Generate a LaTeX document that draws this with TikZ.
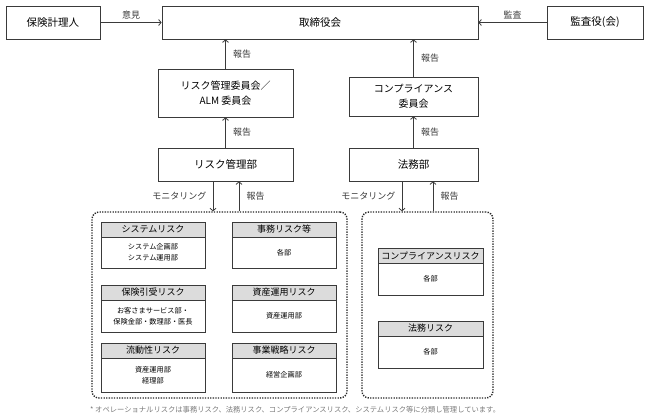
\documentclass[tikz,border=0pt]{standalone}
\usepackage{fontspec}
\setmainfont{Noto Sans CJK JP}
\usetikzlibrary{arrows.meta}
\definecolor{linegray}{HTML}{3A3A3A}
\definecolor{headgray}{HTML}{DCDCDC}
\definecolor{notegray}{HTML}{7A7A7A}

\begin{document}
\begin{tikzpicture}[x=1pt,y=-1pt,
    box/.style={draw=linegray,line width=0.8pt,inner sep=0pt,align=center,font=\fontsize{10.5}{13}\selectfont},
    riskhead/.style={draw=linegray,line width=1pt,fill=headgray,inner sep=0pt,minimum width=104pt,minimum height=15pt,font=\fontsize{9}{10}\selectfont},
    riskbody/.style={draw=linegray,line width=1pt,inner sep=0pt,minimum width=104pt,align=center,font=\fontsize{7.2}{11}\selectfont},
    group/.style={draw=black!85,line width=1.4pt,dash pattern=on 1.3pt off 1.3pt,rounded corners=7pt,inner sep=0pt},
    arr/.style={draw=linegray,line width=0.8pt,-{Straight Barb[length=2.5pt,width=6pt]}},
    lbl/.style={font=\fontsize{9}{10}\selectfont,text=linegray}]
      \useasboundingbox (0,0) rectangle (648,420);
      \node[box,minimum width=94pt,minimum height=33pt] (actuary) at (53,22.5) {保険計理人};
      \node[box,minimum width=316pt,minimum height=33pt] (board) at (320,22.5) {取締役会};
      \node[box,minimum width=96pt,minimum height=33pt] (auditor) at (595,22.5) {監査役(会)};
      \node[box,minimum width=135pt,minimum height=48pt,font=\fontsize{10}{15}\selectfont] (riskcomm) at (225.5,93) {リスク管理委員会／\\ALM 委員会};
      \node[box,minimum width=129pt,minimum height=39pt,font=\fontsize{10}{15}\selectfont] (compcomm) at (413.5,96.5) {コンプライアンス\\委員会};
      \node[box,minimum width=135pt,minimum height=33pt] (riskdept) at (225.5,164.5) {リスク管理部};
      \node[box,minimum width=129pt,minimum height=33pt] (legaldept) at (413.5,164.5) {法務部};
      \node[group,minimum width=255pt,minimum height=186pt] (lgroup) at (219.5,305) {};
      \node[group,minimum width=131pt,minimum height=186pt] (rgroup) at (427.5,305) {};

      \node[riskhead] (sysh) at (153,229.5) {システムリスク};
      \node[riskbody,minimum height=31pt] (sysb) at (153,252.5) {システム企画部\\システム運用部};
      \node[riskhead] (adminh) at (284,229.5) {事務リスク等};
      \node[riskbody,minimum height=31pt] (adminb) at (284,252.5) {各部};
      \node[riskhead] (uwh) at (153,292.5) {保険引受リスク};
      \node[riskbody,minimum height=32pt] (uwb) at (153,316) {お客さまサービス部・\\保険金部・数理部・医長};
      \node[riskhead] (invh) at (284,292.5) {資産運用リスク};
      \node[riskbody,minimum height=32pt] (invb) at (284,316) {資産運用部};
      \node[riskhead] (liqh) at (153,350.5) {流動性リスク};
      \node[riskbody,minimum height=34pt] (liqb) at (153,375) {資産運用部\\経理部};
      \node[riskhead] (strh) at (284,350.5) {事業戦略リスク};
      \node[riskbody,minimum height=34pt] (strb) at (284,375) {経営企画部};
      \node[riskhead,minimum width=105pt] (comph) at (430.5,255.5) {コンプライアンスリスク};
      \node[riskbody,minimum width=105pt,minimum height=32pt] (compb) at (430.5,279) {各部};
      \node[riskhead,minimum width=105pt] (legalh) at (430.5,328.5) {法務リスク};
      \node[riskbody,minimum width=105pt,minimum height=32pt] (legalb) at (430.5,352) {各部};

      \coordinate (mon1) at (213,0);
      \coordinate (rep1) at (239,0);
      \coordinate (mon2) at (402,0);
      \coordinate (rep2) at (433,0);

      \draw[arr] (actuary) -- node[lbl,above] {意見} (board);
      \draw[arr] (auditor) -- node[lbl,above] {監査} (board);
      \draw[arr] (riskcomm) -- node[lbl,right=4pt] {報告} (riskcomm |- board.south);
      \draw[arr] (compcomm) -- node[lbl,right=4pt] {報告} (compcomm |- board.south);
      \draw[arr] (riskdept) -- node[lbl,right=4pt] {報告} (riskcomm);
      \draw[arr] (legaldept) -- node[lbl,right=4pt] {報告} (compcomm);
      \draw[arr] (riskdept.south -| mon1) -- node[lbl,left=3pt] {モニタリング} (lgroup.north -| mon1);
      \draw[arr] (lgroup.north -| rep1) -- node[lbl,right=4pt] {報告} (riskdept.south -| rep1);
      \draw[arr] (legaldept.south -| mon2) -- node[lbl,left=3pt] {モニタリング} (rgroup.north -| mon2);
      \draw[arr] (rgroup.north -| rep2) -- node[lbl,right=4pt] {報告} (legaldept.south -| rep2);

      \node[anchor=west,inner sep=0pt,text=notegray,font=\fontsize{7.3}{9}\selectfont] (note) at (90,410) {* オペレーショナルリスクは事務リスク、法務リスク、コンプライアンスリスク、システムリスク等に分類し管理しています。};
\end{tikzpicture}
\end{document}
